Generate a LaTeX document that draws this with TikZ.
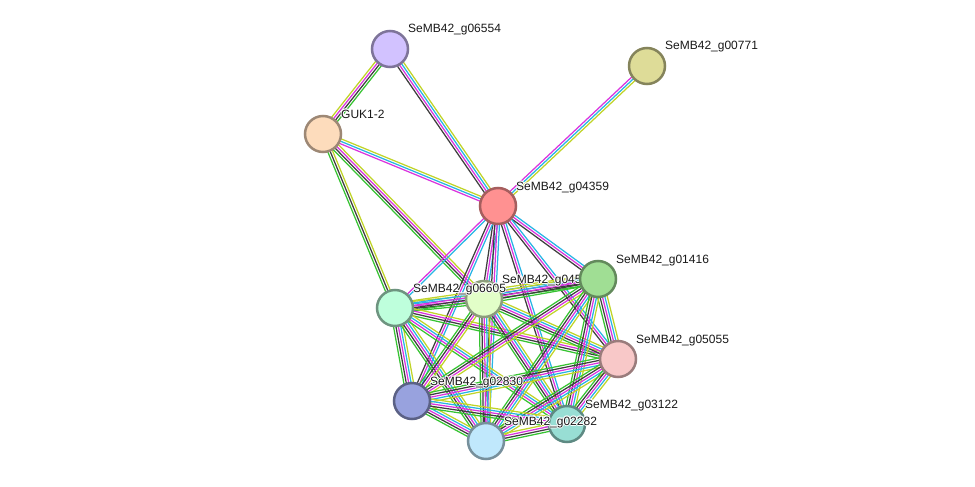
\documentclass[tikz,border=0pt]{standalone}
\usepackage{fontspec}
\setmainfont{Liberation Sans}
\usepackage{xcolor}
\usetikzlibrary{calc}
\definecolor{sgreen}{RGB}{55,195,50}
\definecolor{sdark}{RGB}{62,62,62}
\definecolor{smagenta}{RGB}{218,52,222}
\definecolor{scyan}{RGB}{40,180,228}
\definecolor{syellow}{RGB}{192,212,40}
\definecolor{lavender}{RGB}{210,194,255}
\definecolor{olivefill}{RGB}{222,220,152}
\definecolor{peach}{RGB}{253,220,188}
\definecolor{salmon}{RGB}{255,145,145}
\definecolor{leaf}{RGB}{160,222,148}
\definecolor{paleleaf}{RGB}{226,254,200}
\definecolor{mint}{RGB}{190,255,220}
\definecolor{rose}{RGB}{248,200,200}
\definecolor{periwinkle}{RGB}{152,162,222}
\definecolor{skyfill}{RGB}{192,232,252}
\definecolor{tealfill}{RGB}{152,222,212}
\pgfdeclarelayer{edges}
\pgfsetlayers{edges,main}

% white halo round the labels
\newcommand{\halotext}[1]{{\rlap{\color{white}%
  \rlap{\kern1pt #1}\rlap{\kern-1pt #1}\rlap{\raisebox{1pt}{#1}}\rlap{\raisebox{-1pt}{#1}}%
  \rlap{\kern.7pt\raisebox{.7pt}{#1}}\rlap{\kern-.7pt\raisebox{.7pt}{#1}}%
  \rlap{\kern.7pt\raisebox{-.7pt}{#1}}\rlap{\kern-.7pt\raisebox{-.7pt}{#1}}}#1}}

% bundle of parallel evidence lines between two proteins
\newcommand{\sedge}[3]{%
  \foreach \ecol [count=\k] in {#3} {\xdef\ecount{\k}}%
  \foreach \ecol [count=\k] in {#3} {%
    \pgfmathsetmacro{\eoff}{(\k-(\ecount+1)/2)*2.4}%
    \draw[\ecol, evline] ($(#1.center)!\eoff pt!90:(#2.center)$) -- ($(#2.center)!\eoff pt!-90:(#1.center)$);
  }}

\begin{document}
\begin{tikzpicture}[
  x=1pt, y=-1pt,
  font=\fontsize{12}{14}\selectfont,
  prot/.style={circle, line width=2.5pt, minimum size=36pt, inner sep=0pt},
  lbl/.style={anchor=base west, inner sep=0pt, text=black!90},
  evline/.style={line width=1.25pt},
]
\useasboundingbox (0,0) rectangle (975,487);

% --- proteins, each followed by its label ---
\node[prot, fill=lavender, draw=lavender!60!black] (g06554) at (390,49) {};
\node[lbl] (l06554) at ([shift={(18pt,16pt)}]g06554.center) {\halotext{SeMB42\_g06554}};
\node[prot, fill=olivefill, draw=olivefill!60!black] (g00771) at (647,66) {};
\node[lbl] (l00771) at ([shift={(18pt,16pt)}]g00771.center) {\halotext{SeMB42\_g00771}};
\node[prot, fill=peach, draw=peach!62!black] (guk) at (323,134) {};
\node[lbl] (lguk) at ([shift={(18pt,16pt)}]guk.center) {\halotext{GUK1-2}};
\node[prot, fill=salmon, draw=salmon!65!black] (g04359) at (498,206) {};
\node[lbl] (l04359) at ([shift={(18pt,16pt)}]g04359.center) {\halotext{SeMB42\_g04359}};
\node[prot, fill=paleleaf, draw=paleleaf!62!black] (g045) at (484,299) {};
\node[lbl] (l045) at ([shift={(18pt,16pt)}]g045.center) {\halotext{SeMB42\_g045}};
\node[prot, fill=leaf, draw=leaf!62!black] (g01416) at (598,279) {};
\node[lbl] (l01416) at ([shift={(18pt,16pt)}]g01416.center) {\halotext{SeMB42\_g01416}};
\node[prot, fill=mint, draw=mint!58!black] (g06605) at (395,308) {};
\node[lbl] (l06605) at ([shift={(18pt,16pt)}]g06605.center) {\halotext{SeMB42\_g06605}};
\node[prot, fill=rose, draw=rose!62!black] (g05055) at (618,359) {};
\node[lbl] (l05055) at ([shift={(18pt,16pt)}]g05055.center) {\halotext{SeMB42\_g05055}};
\node[prot, fill=periwinkle, draw=periwinkle!60!black] (g02830) at (412,401) {};
\node[lbl] (l02830) at ([shift={(18pt,16pt)}]g02830.center) {\halotext{SeMB42\_g02830}};
\node[prot, fill=tealfill, draw=tealfill!62!black] (g03122) at (567,424) {};
\node[lbl] (l03122) at ([shift={(18pt,16pt)}]g03122.center) {\halotext{SeMB42\_g03122}};
\node[prot, fill=skyfill, draw=skyfill!62!black] (g02282) at (486,441) {};
\node[lbl] (l02282) at ([shift={(18pt,16pt)}]g02282.center) {\halotext{SeMB42\_g02282}};

% --- evidence edges ---
\begin{pgfonlayer}{edges}
\sedge{g06554}{guk}{syellow,smagenta,sdark,sgreen}
\sedge{g06554}{g04359}{sdark,smagenta,scyan,syellow}
\sedge{g00771}{g04359}{smagenta,scyan,syellow}
\sedge{guk}{g04359}{smagenta,scyan,syellow}
\sedge{guk}{g06605}{sgreen,sdark,syellow}
\sedge{guk}{g045}{sgreen,sdark,smagenta,syellow}
\sedge{g04359}{g06605}{smagenta,scyan}
\foreach \other in {g045,g01416,g05055,g02830,g02282,g03122}
  {\sedge{g04359}{\other}{sdark,smagenta,scyan}}
\sedge{g06605}{g045}{sgreen,sdark,smagenta,scyan,syellow}
\sedge{g06605}{g01416}{sgreen,sdark,smagenta,scyan,syellow}
\sedge{g06605}{g05055}{sgreen,sdark,smagenta,syellow}
\sedge{g06605}{g02830}{sgreen,sdark,smagenta,scyan,syellow}
\sedge{g06605}{g02282}{sgreen,sdark,smagenta,scyan,syellow}
\sedge{g06605}{g03122}{sgreen,smagenta,scyan,syellow}
\sedge{g045}{g01416}{sgreen,sdark,smagenta,scyan,syellow}
\sedge{g045}{g05055}{sgreen,sdark,smagenta,scyan,syellow}
\sedge{g045}{g02830}{sgreen,sdark,smagenta,syellow}
\sedge{g045}{g02282}{sgreen,sdark,smagenta,scyan,syellow}
\sedge{g045}{g03122}{sgreen,sdark,smagenta,scyan,syellow}
\sedge{g01416}{g05055}{sgreen,sdark,smagenta,scyan,syellow}
\sedge{g01416}{g02830}{sgreen,sdark,smagenta,syellow}
\sedge{g01416}{g02282}{sgreen,sdark,smagenta,scyan,syellow}
\sedge{g01416}{g03122}{sgreen,sdark,smagenta,scyan,syellow}
\sedge{g05055}{g02830}{sgreen,sdark,smagenta,scyan,syellow}
\sedge{g05055}{g02282}{sgreen,sdark,smagenta,scyan,syellow}
\sedge{g05055}{g03122}{sgreen,sdark,smagenta,scyan,syellow}
\sedge{g02830}{g02282}{sgreen,sdark,smagenta,scyan,syellow}
\sedge{g02830}{g03122}{sgreen,sdark,smagenta,scyan,syellow}
\sedge{g02282}{g03122}{sgreen,sdark,smagenta,syellow}
\end{pgfonlayer}

\end{tikzpicture}
\end{document}
